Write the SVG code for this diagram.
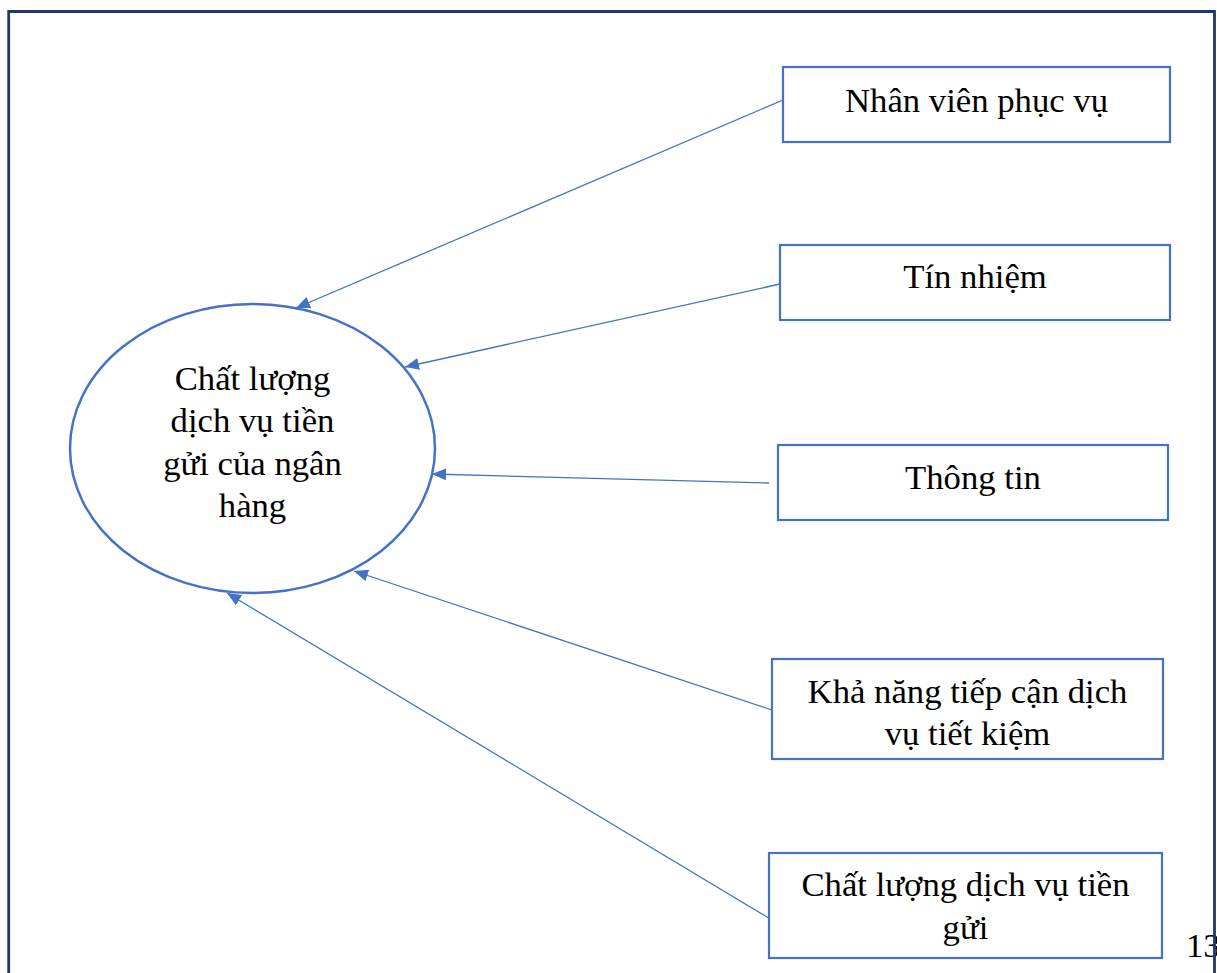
<svg xmlns="http://www.w3.org/2000/svg" width="1217" height="973" viewBox="0 0 1217 973">
  <style>
    .box { fill: #ffffff; stroke: #4472c4; stroke-width: 2.2; }
    .ell { fill: #ffffff; stroke: #4472c4; stroke-width: 2.5; }
    .lbl { font-family: 'Liberation Serif', 'DejaVu Serif', serif; font-size: 34.7px; fill: #000000; text-anchor: middle; }
    .conn { stroke: #4472c4; stroke-width: 1.3; fill: none; }
  </style>
  <defs>
    <marker id="arrow" markerUnits="userSpaceOnUse" markerWidth="15" markerHeight="13" refX="14" refY="6" orient="auto">
      <path d="M0,0 L14,6 L0,12 z" fill="#4472c4"/>
    </marker>
  </defs>
  <rect x="0" y="0" width="1217" height="973" fill="#ffffff"/>
  <text class="lbl" x="1186" y="957" text-anchor="start" style="text-anchor:start">13</text>
  <path d="M8.7,1000 L8.7,11.5 L1214.5,11.5 L1214.5,1000" fill="none" stroke="#203864" stroke-width="2.8"/>

  <g id="connectors">
    <line class="conn" x1="783" y1="100" x2="296" y2="308" marker-end="url(#arrow)"/>
    <line class="conn" x1="780" y1="284" x2="405" y2="367" marker-end="url(#arrow)"/>
    <line class="conn" x1="769" y1="483" x2="432" y2="474" marker-end="url(#arrow)"/>
    <line class="conn" x1="772" y1="710" x2="354" y2="571" marker-end="url(#arrow)"/>
    <line class="conn" x1="772" y1="920" x2="227" y2="593" marker-end="url(#arrow)"/>
  </g>

  <g id="node-center">
    <ellipse class="ell" cx="252.5" cy="448.5" rx="182.5" ry="144.5"/>
    <text class="lbl" x="252.5" y="390">Chất lượng</text>
    <text class="lbl" x="252.5" y="432">dịch vụ tiền</text>
    <text class="lbl" x="252.5" y="475">gửi của ngân</text>
    <text class="lbl" x="252.5" y="517">hàng</text>
  </g>

  <g id="node-nhanvien">
    <rect class="box" x="783" y="67" width="387" height="75"/>
    <text class="lbl" x="976.5" y="112">Nhân viên phục vụ</text>
  </g>

  <g id="node-tinnhiem">
    <rect class="box" x="780" y="245" width="390" height="75"/>
    <text class="lbl" x="975" y="288">Tín nhiệm</text>
  </g>

  <g id="node-thongtin">
    <rect class="box" x="778" y="445" width="390" height="75"/>
    <text class="lbl" x="973" y="489">Thông tin</text>
  </g>

  <g id="node-khanang">
    <rect class="box" x="772" y="659" width="391" height="100"/>
    <text class="lbl" x="967.5" y="703">Khả năng tiếp cận dịch</text>
    <text class="lbl" x="967.5" y="745">vụ tiết kiệm</text>
  </g>

  <g id="node-chatluong">
    <rect class="box" x="769" y="853" width="393" height="105"/>
    <text class="lbl" x="965.5" y="896">Chất lượng dịch vụ tiền</text>
    <text class="lbl" x="965.5" y="939">gửi</text>
  </g>
</svg>
